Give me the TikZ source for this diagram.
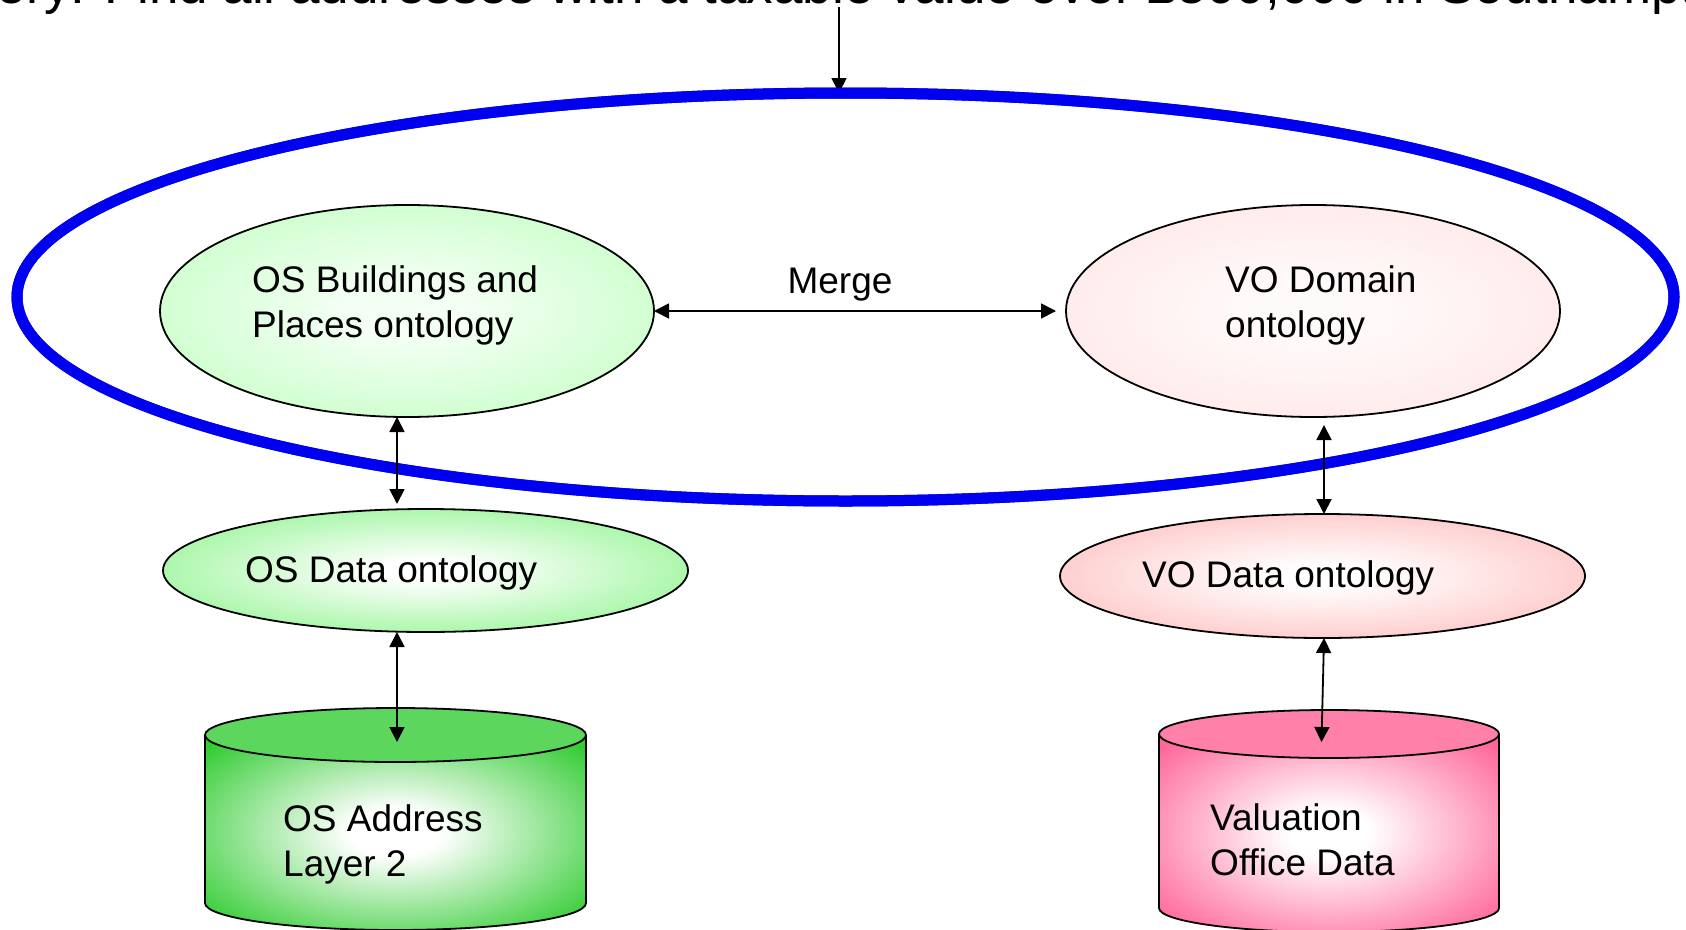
\documentclass[tikz,border=0pt]{standalone}
\usepackage{fontspec}
\setmainfont{Liberation Sans}
\usetikzlibrary{arrows.meta,shapes.geometric}
\definecolor{osbout}{HTML}{CCFFCC}
\definecolor{osbin}{HTML}{F4FFF4}
\definecolor{vodout}{HTML}{FFEAEA}
\definecolor{vodin}{HTML}{FFFAFA}
\definecolor{osdout}{HTML}{99F599}
\definecolor{vdout}{HTML}{FFC4C4}
\definecolor{osaout}{HTML}{33CC33}
\definecolor{osatop}{HTML}{5CD65C}
\definecolor{valout}{HTML}{FF6699}
\definecolor{valtop}{HTML}{FF80A8}
\definecolor{ringblue}{HTML}{0000F0}
\pgfdeclareradialshading{shosb}{\pgfpoint{0bp}{0bp}}{color(0bp)=(osbin); color(6bp)=(osbin); color(28bp)=(osbout); color(50bp)=(osbout)}
\pgfdeclareradialshading{shvod}{\pgfpoint{0bp}{0bp}}{color(0bp)=(vodin); color(6bp)=(vodin); color(28bp)=(vodout); color(50bp)=(vodout)}
\pgfdeclareradialshading{shosd}{\pgfpoint{0bp}{0bp}}{color(0bp)=(white); color(4bp)=(white); color(30bp)=(osdout); color(50bp)=(osdout)}
\pgfdeclareradialshading{shvd}{\pgfpoint{0bp}{0bp}}{color(0bp)=(white); color(4bp)=(white); color(30bp)=(vdout); color(50bp)=(vdout)}
\pgfdeclareradialshading{shosa}{\pgfpoint{0bp}{0bp}}{color(0bp)=(white); color(6bp)=(white); color(33bp)=(osaout); color(50bp)=(osaout)}
\pgfdeclareradialshading{shval}{\pgfpoint{0bp}{0bp}}{color(0bp)=(white); color(6bp)=(white); color(33bp)=(valout); color(50bp)=(valout)}
\tikzset{
  onto/.style={ellipse, draw=black, line width=1.8pt, inner sep=0pt, outer sep=0pt},
  lbl/.style={anchor=base west, inner sep=0pt, font=\fontsize{37}{45}\selectfont, align=left},
  dbl/.style={{Triangle[length=15pt,width=15pt]}-{Triangle[length=15pt,width=15pt]}, line width=1.8pt},
  sgl/.style={-{Triangle[length=15pt,width=15pt]}, line width=1.8pt},
  cylline/.style={draw=black, line width=1.8pt}
}
\begin{document}
\begin{tikzpicture}[x=1pt,y=-1pt]
\useasboundingbox (0,0) rectangle (1686,929);
\clip (0,0) rectangle (1686,929);
% title (cut by the top edge)
\node[anchor=base west, inner sep=0pt, font=\fontsize{53}{60}\selectfont] (title) at (-74,3)
  {Query: Find all addresses with a taxable value over £500,000 in Southampton};
\coordinate (qstart) at (839,7);
% domain ring
\node[ellipse, draw=ringblue, line width=11pt, inner sep=0pt, outer sep=0pt,
      minimum width=1657pt, minimum height=408pt] (ring) at (845.5,297) {};
\draw[sgl] (qstart) -- (ring.north -| qstart);
\node[ellipse, draw=ringblue, line width=11pt, inner sep=0pt, outer sep=0pt,
      minimum width=1657pt, minimum height=408pt] at (845.5,297) {};
% ontologies
\node[onto, shading=shosb, minimum width=494pt, minimum height=212pt] (osb) at (407,311) {};
\node[onto, shading=shvod, minimum width=494pt, minimum height=212pt] (vod) at (1313,311) {};
\node[onto, shading=shosd, minimum width=525pt, minimum height=123pt] (osd) at (425.5,570.5) {};
\node[onto, shading=shvd, minimum width=525pt, minimum height=124pt] (vdd) at (1322.5,576) {};
% OS Address cylinder
\path[shading=shosa] (205,735) -- (205,903) arc[start angle=180, end angle=0, x radius=190.5, y radius=27]
  -- (586,735) arc[start angle=0, end angle=180, x radius=190.5, y radius=27] -- cycle;
\draw[cylline] (205,735) -- (205,903) arc[start angle=180, end angle=0, x radius=190.5, y radius=27] -- (586,735);
\draw[cylline, fill=osatop] (395.5,735) ellipse[x radius=190.5, y radius=27];
% Valuation cylinder
\path[shading=shval] (1159,734) -- (1159,908) arc[start angle=180, end angle=0, x radius=170, y radius=24]
  -- (1499,734) arc[start angle=0, end angle=180, x radius=170, y radius=24] -- cycle;
\draw[cylline] (1159,734) -- (1159,908) arc[start angle=180, end angle=0, x radius=170, y radius=24] -- (1499,734);
\draw[cylline, fill=valtop] (1329,734) ellipse[x radius=170, y radius=24];
\coordinate (osatip) at (397,742);
\coordinate (valtip) at (1321.5,742);
\coordinate (osx) at (397,0);
\coordinate (vox) at (1324,0);
% connectors
\draw[dbl, shorten >=10pt] (osb.east) -- (vod.west);
\draw[dbl, shorten >=5pt] (osb.south -| osx) -- (osd.north -| osx);
\draw[dbl] (osd.south -| osx) -- (osatip);
\draw[dbl, shorten <=8pt] (vod.south -| vox) -- (vdd.north -| vox);
\draw[dbl] (vdd.south -| vox) -- (valtip);
% texts
\node[anchor=base, inner sep=0pt, font=\fontsize{37}{45}\selectfont] (merge) at (840,293) {Merge};
\node[lbl] (osbt) at (252,337) {OS Buildings and\\Places ontology};
\node[lbl] (vodt) at (1225,337) {VO Domain\\ontology};
\node[lbl] (osdt) at (245,582) {OS Data ontology};
\node[lbl] (vddt) at (1142,587) {VO Data ontology};
\node[lbl] (osat) at (283,876) {OS Address\\Layer 2};
\node[lbl] (valt) at (1210,875) {Valuation\\Office Data};
\end{tikzpicture}
\end{document}
